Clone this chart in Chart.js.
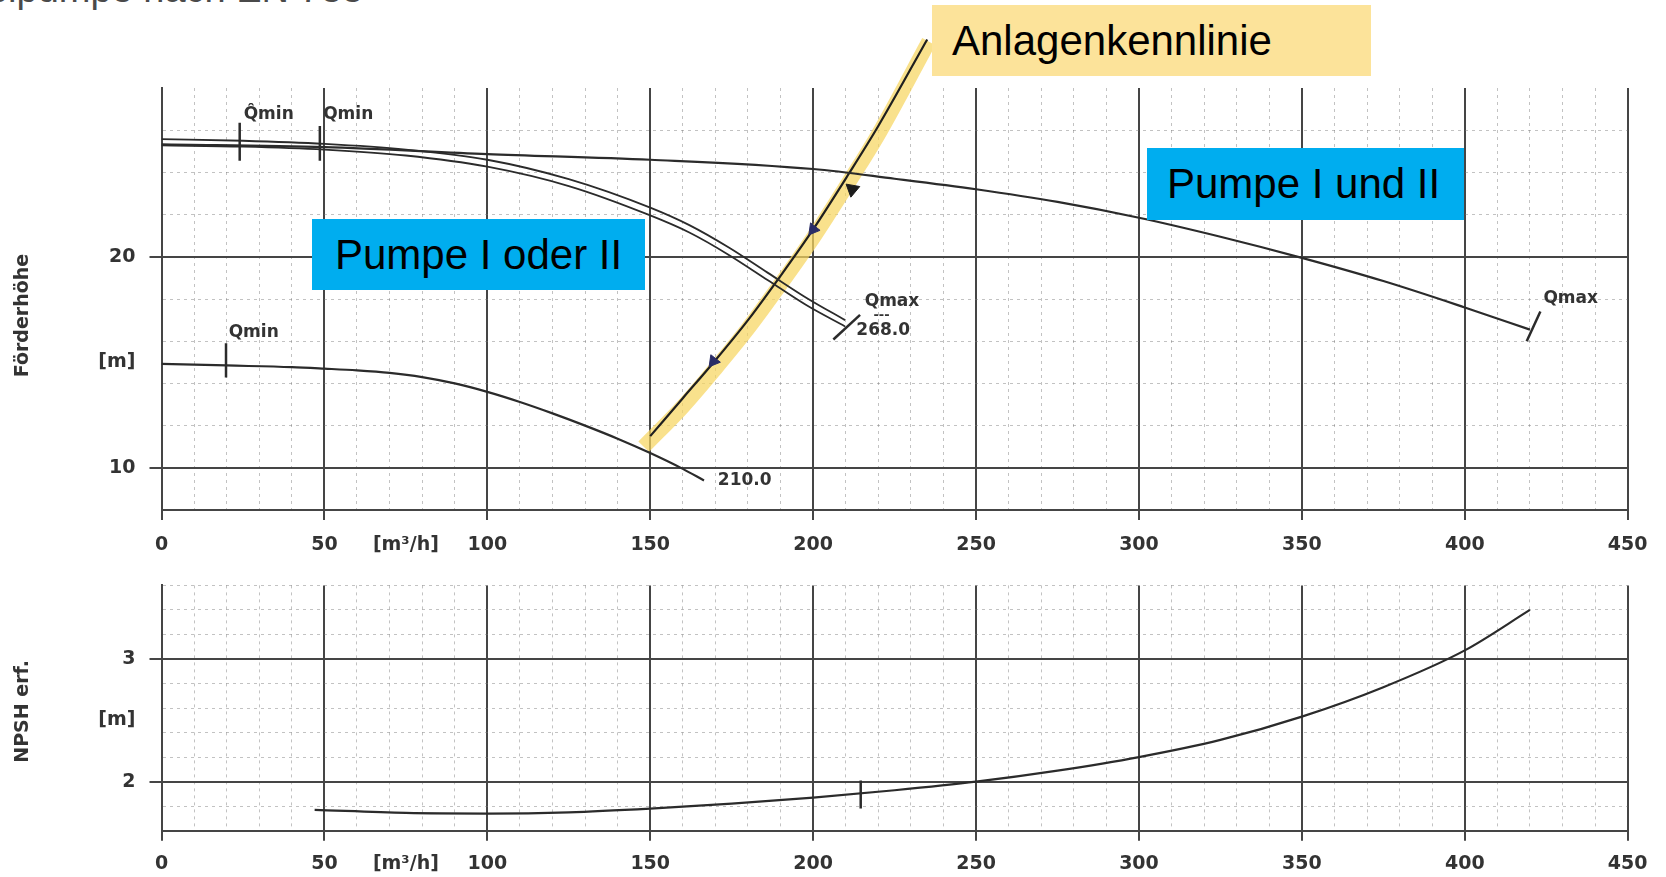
<!DOCTYPE html>
<html><head><meta charset="utf-8">
<script src="https://cdn.jsdelivr.net/npm/chart.js@4.4.0/dist/chart.umd.min.js"></script>
<style>
html,body{margin:0;padding:0;background:#fff;overflow:hidden;width:1666px;height:877px;position:relative;font-family:"Liberation Sans",Arial,sans-serif}
#c1{position:absolute;left:0;top:0}
#c2{position:absolute;left:0;top:560px}
.box{position:absolute;font-size:42px;color:#000;display:flex;align-items:center;box-sizing:border-box;white-space:nowrap;z-index:5}
#hdr{position:absolute;right:1303px;top:-30px;font-size:38px;line-height:38px;color:#4a4a4a;white-space:nowrap}
</style></head><body>
<div id="hdr">Doppelpumpe nach EN 733</div>
<canvas id="c1" width="1666" height="570"></canvas>
<canvas id="c2" width="1666" height="317"></canvas>
<div class="box" style="left:932px;top:5px;width:439px;height:71px;background:#fce39a;padding-left:20px">Anlagenkennlinie</div>
<div class="box" style="left:1147px;top:148px;width:317px;height:72px;background:#00adef;padding-left:20px">Pumpe I und II</div>
<div class="box" style="left:312px;top:219px;width:333px;height:71px;background:#00adef;padding-left:23px">Pumpe I oder II</div>
<script>
// ---- data ----
const flowTicks = [0,10,20,30,40,50,60,70,75,80,90,100,110,120,130,140,150,160,170,180,190,200,210,220,230,240,250,260,270,280,290,300,310,320,330,340,350,360,370,380,390,400,410,420,430,440,450];
const headTicks = [8,10,12,14,15,16,18,20,22,24,26,28];
const npshTicks = [1.6,1.8,2,2.2,2.4,2.5,2.6,2.8,3,3.2,3.4,3.6];

// system curve (Anlagenkennlinie) and its hand-drawn highlight
const sysQ = [150,160,170,180,190,200,211,220,235];
const sysH = [11.5,13.3,15.1,17.0,19.1,21.3,23.95,26.2,30.3];
const hlQ = [148,160,170,180,190,200,211,220,235.5];
const hlH = [11.0,12.9,14.7,16.6,18.7,20.9,23.55,25.8,30.2];
// Pumpe I und II
const undQ = [0,50,100,150,200,225,250,275,300,325,350,375,400,420];
const undH = [25.33,25.2,24.87,24.6,24.16,23.7,23.2,22.6,21.85,20.95,19.95,18.85,17.6,16.55];
// Pumpe I oder II (268.0) double line
const oderQ = [0,25,50,75,100,125,150,162,174,186,198,209.8];
const oderHa = [25.58,25.5,25.35,25.08,24.6,23.68,22.33,21.5,20.45,19.25,18.05,17.0];
const oderHb = [25.28,25.22,25.08,24.8,24.27,23.35,21.96,21.15,20.1,18.9,17.7,16.7];
// impeller 210.0
const p210Q = [0,20,40,50,60,70,80,90,100,110,120,130,140,150,160,166.5];
const p210H = [14.93,14.85,14.77,14.7,14.62,14.5,14.3,14.0,13.6,13.12,12.58,12.0,11.38,10.7,9.95,9.4];
// NPSH required
const npshQ = [47,75,100,125,150,175,200,225,250,275,300,325,350,375,400,420];
const npshH = [1.77,1.745,1.74,1.75,1.78,1.82,1.87,1.93,2.0,2.09,2.2,2.34,2.53,2.77,3.07,3.4];

// Qmin / Qmax marks (start and end of each short stroke)
const markQ1 = [24,48.6,19.8,206.2,419];
const markH1 = [26.35,26.2,15.9,16.08,16.0];
const markQ2 = [24,48.6,19.8,214.4,423.2];
const markH2 = [24.55,24.55,14.28,17.25,17.41];
const npshMarkQ = [214.6,214.6];
const npshMarkH = [2.01,1.78];
// arrow marks on the system curve
const arrowQ = [169.4,200];
const arrowH = [15.05,21.3];
const opQ = [212];
const opH = [23.2];

// text labels
const labelText = ['Q\u0302min','Qmin','Qmin','210.0','Qmax','---','268.0','Qmax'];
const labelQ = [32.9,57.3,28.3,179,224.2,221,221.5,432.5];
const labelH = [26.75,26.75,16.39,9.4,17.88,17.2,16.51,18.04];
const npshLabelText = [];
const npshLabelQ = [];
const npshLabelH = [];

// ---- helpers ----
const zip = (xs, ys) => xs.map((x, i) => ({x, y: ys[i]}));
const near = (a, b) => Math.abs(a - b) < 1e-6;
const TXT = '#333';
const MAJ = '#454545';
const MIN = 'rgba(120,120,120,0.45)';
const CLR = 'rgba(0,0,0,0)';
const tickFont = {family: '"DejaVu Sans", sans-serif', weight: 'bold', size: 19};

function xAxis(height, pad) {
  return {
    type: 'linear', min: 0, max: 450,
    afterBuildTicks: s => { s.ticks = flowTicks.map(v => ({value: v})); },
    afterFit: s => { s.height = height; },
    ticks: {
      autoSkip: false, maxRotation: 0, padding: pad, color: TXT, font: tickFont,
      callback: v => near(v, 75) ? '[m\u00b3/h]' : (v % 50 === 0 ? String(v) : '')
    },
    grid: {
      tickLength: 10,
      color: c => { const t = c.tick; if (!t) return MAJ; if (near(t.value, 75)) return CLR; return t.value % 50 === 0 ? MAJ : MIN; },
      lineWidth: c => { const t = c.tick; return t && t.value % 50 === 0 ? 2 : 1; },
      tickColor: c => { const t = c.tick; return t && t.value % 50 === 0 ? MAJ : CLR; },
      tickWidth: 2
    },
    border: {
      color: MAJ, width: 2,
      dash: c => { const t = c.tick; if (!t) return []; return t.value % 50 === 0 ? [] : [3, 4]; }
    }
  };
}

function yAxis(min, max, ticksArr, majors, labelMap, hidden, titleText) {
  return {
    type: 'linear', min, max,
    afterBuildTicks: s => { s.ticks = ticksArr.map(v => ({value: v})); },
    afterFit: s => { s.width = 161.5; },
    title: {display: true, text: titleText, color: TXT, font: {family: '"DejaVu Sans", sans-serif', weight: 'bold', size: 19}, padding: {top: 12, bottom: 0}},
    ticks: {
      autoSkip: false, padding: 14, color: TXT, font: tickFont,
      callback: v => { for (const k in labelMap) { if (near(v, +k)) return labelMap[k]; } return ''; }
    },
    grid: {
      tickLength: 12,
      color: c => { const t = c.tick; if (!t) return MAJ; if (hidden.some(h => near(h, t.value))) return CLR; return majors.some(m => near(m, t.value)) ? MAJ : MIN; },
      lineWidth: c => { const t = c.tick; return t && majors.some(m => near(m, t.value)) ? 2 : 1; },
      tickColor: c => { const t = c.tick; return t && majors.some(m => near(m, t.value)) && !near(t.value, min) ? MAJ : CLR; },
      tickWidth: 2
    },
    border: {
      color: MAJ, width: 2,
      dash: c => { const t = c.tick; if (!t) return []; return majors.some(m => near(m, t.value)) ? [] : [3, 4]; }
    }
  };
}

function labelPlugin(texts, qs, hs) {
  return {
    id: 'lbl',
    afterDatasetsDraw(chart) {
      const {ctx, scales: {x, y}} = chart;
      ctx.save();
      ctx.fillStyle = TXT;
      ctx.textAlign = 'center';
      ctx.textBaseline = 'middle';
      texts.forEach((t, i) => {
        ctx.font = 'bold ' + (t === '---' ? 13 : 17) + 'px "DejaVu Sans", sans-serif';
        ctx.fillText(t, x.getPixelForValue(qs[i]), y.getPixelForValue(hs[i]));
      });
      ctx.restore();
    }
  };
}

const curve = (data, w, extra) => Object.assign({data, borderColor: '#2b2b2b', borderWidth: w, pointRadius: 0, cubicInterpolationMode: 'monotone', fill: false}, extra || {});

// ---- top chart ----
const topSets = [
  curve(zip(undQ, undH), 2.2),
  curve(zip(oderQ, oderHa), 1.8),
  curve(zip(oderQ, oderHb), 1.8),
  curve(zip(p210Q, p210H), 2.2),
  curve(zip(sysQ, sysH), 2.2, {clip: false, borderColor: '#1f1f1f'}),
];
markQ1.forEach((q, i) => topSets.push({data: [{x: q, y: markH1[i]}, {x: markQ2[i], y: markH2[i]}], borderColor: '#2b2b2b', borderWidth: 2.5, pointRadius: 0, tension: 0}));
topSets.unshift({data: zip(arrowQ, arrowH), showLine: false, pointStyle: 'triangle', pointRadius: 7, rotation: 218, backgroundColor: '#2a2c66', borderColor: '#2a2c66', borderWidth: 1});
topSets.unshift({data: zip(opQ, opH), showLine: false, pointStyle: 'triangle', pointRadius: 8, rotation: 190, backgroundColor: '#1c1c1c', borderColor: '#1c1c1c', borderWidth: 1});
topSets.push(curve(zip(hlQ, hlH), 15, {clip: false, borderColor: 'rgba(246,214,96,0.72)', order: 10}));

new Chart(document.getElementById('c1'), {
  type: 'line',
  data: {datasets: topSets},
  options: {
    responsive: false, animation: false, events: [],
    layout: {padding: {left: 0, top: 88, right: 38.3, bottom: 0}},
    plugins: {legend: {display: false}, tooltip: {enabled: false}},
    scales: {
      x: xAxis(60, 14),
      y: yAxis(8, 28, headTicks, [8, 10, 20], {10: '10', 20: '20', 15: '[m]'}, [15, 28], 'Förderhöhe     ')
    }
  },
  plugins: [labelPlugin(labelText, labelQ, labelH)]
});

// ---- bottom chart ----
new Chart(document.getElementById('c2'), {
  type: 'line',
  data: {datasets: [
    curve(zip(npshQ, npshH), 2.2),
    {data: zip(npshMarkQ, npshMarkH), borderColor: '#2b2b2b', borderWidth: 2.5, pointRadius: 0, tension: 0}
  ]},
  options: {
    responsive: false, animation: false, events: [],
    layout: {padding: {left: 0, top: 20, right: 38.3, bottom: 0}},
    plugins: {legend: {display: false}, tooltip: {enabled: false}},
    scales: {
      x: xAxis(46.3, 12),
      y: yAxis(1.6, 3.6, npshTicks, [1.6, 2, 3], {2: '2', 3: '3', 2.5: '[m]'}, [2.5], 'NPSH erf. ')
    }
  },
  plugins: [labelPlugin(npshLabelText, npshLabelQ, npshLabelH)]
});
</script>
</body></html>
